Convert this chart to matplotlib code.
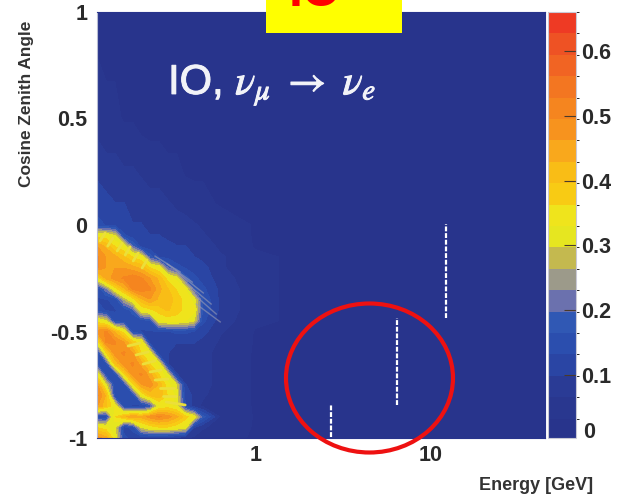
import numpy as np
from matplotlib import patheffects as pe
from matplotlib import pyplot as plt
from matplotlib.colors import BoundaryNorm, ListedColormap
from matplotlib.patches import Ellipse, Rectangle
from matplotlib.ticker import FixedLocator, NullFormatter, NullLocator
from matplotlib.transforms import IdentityTransform

plt.rcParams["font.family"] = ["Liberation Sans", "DejaVu Sans"]
plt.rcParams["mathtext.fontset"] = "stix"

# Oscillation probability, low energy / upward region
energy = [0.126, 0.141, 0.158, 0.178, 0.200, 0.224, 0.251, 0.282, 0.316, 0.355, 0.398, 0.447, 0.501,
          0.631, 1.0, 2.0]
cos_zenith = [-1.0, -0.95, -0.9, -0.85, -0.8, -0.75, -0.7, -0.65, -0.6, -0.55, -0.5,
              -0.45, -0.4, -0.35, -0.3, -0.25, -0.2, -0.15, -0.1, -0.05, 0.0,
              0.1, 0.25, 0.5]
probability = [
    [.48, .44, .33, .14, .12, .10, .10, .10, .09, .08, .07, .06, .05, .04, .03, .02],
    [.36, .34, .30, .12, .14, .30, .34, .36, .36, .34, .32, .10, .07, .05, .03, .02],
    [.13, .13, .36, .42, .46, .44, .48, .50, .48, .44, .38, .33, .18, .06, .03, .02],
    [.46, .40, .33, .14, .13, .12, .16, .32, .34, .32, .14, .08, .06, .05, .03, .02],
    [.50, .42, .14, .14, .14, .32, .40, .42, .36, .32, .12, .09, .07, .05, .03, .02],
    [.46, .30, .14, .14, .34, .46, .48, .42, .34, .30, .10, .09, .08, .05, .03, .02],
    [.32, .14, .14, .36, .48, .50, .44, .36, .30, .10, .09, .09, .08, .05, .03, .02],
    [.14, .16, .40, .48, .50, .44, .36, .32, .10, .09, .09, .09, .08, .05, .03, .02],
    [.14, .36, .48, .50, .46, .36, .32, .10, .10, .09, .09, .09, .08, .05, .03, .02],
    [.34, .50, .50, .46, .38, .34, .11, .11, .11, .10, .10, .10, .09, .06, .03, .02],
    [.48, .50, .42, .34, .14, .13, .13, .13, .13, .14, .14, .13, .11, .07, .03, .02],
    [.34, .30, .14, .14, .14, .14, .16, .32, .34, .34, .33, .30, .14, .08, .04, .02],
    [.14, .13, .13, .14, .18, .33, .35, .38, .40, .38, .35, .34, .16, .09, .04, .02],
    [.13, .13, .14, .26, .34, .42, .46, .42, .42, .38, .35, .32, .16, .09, .04, .02],
    [.14, .22, .34, .42, .50, .52, .50, .44, .40, .36, .33, .18, .14, .09, .04, .02],
    [.34, .44, .48, .50, .52, .50, .46, .42, .35, .32, .18, .14, .12, .08, .04, .02],
    [.50, .46, .46, .46, .44, .42, .36, .33, .20, .14, .13, .12, .11, .07, .04, .02],
    [.50, .46, .44, .40, .36, .33, .18, .13, .12, .12, .11, .10, .09, .07, .04, .02],
    [.46, .42, .36, .33, .20, .12, .11, .11, .11, .10, .10, .09, .08, .06, .03, .02],
    [.34, .34, .30, .14, .11, .10, .10, .10, .09, .09, .08, .08, .07, .05, .03, .02],
    [.14, .13, .12, .11, .10, .10, .09, .09, .09, .08, .08, .07, .06, .05, .03, .02],
    [.12, .11, .10, .10, .09, .09, .08, .08, .07, .06, .05, .04, .04, .03, .02, .02],
    [.09, .08, .08, .07, .07, .06, .05, .05, .04, .04, .03, .03, .03, .02, .02, .02],
    [.05, .04, .04, .03, .03, .02, .02, .02, .02, .02, .02, .02, .02, .02, .02, .02],
]

# Rest of the plane is flat background
energy_rest = [45.0]
cos_rest = [1.0]
background = 0.02

# Yellow spikes on the blob edges, then the pale fringes to the right of the upper blob
spike_e_base = [.188, .209, .229, .251, .268, .287, .298, .310, .130, .144, .163, .181, .201, .226]
spike_e_tip = [.220, .245, .268, .290, .318, .344, .354, .398, .139, .154, .174, .193, .215, .241]
spike_cos_base = [-.568, -.610, -.653, -.690, -.728, -.765, -.803, -.831, -.075, -.099, -.122, -.141, -.169, -.202]
spike_cos_tip = [-.554, -.596, -.638, -.681, -.723, -.765, -.803, -.845, -.038, -.061, -.085, -.103, -.131, -.164]
fringe_e_start = [.268, .314, .363, .403, .437, .460]
fringe_e_end = [.373, .437, .505, .560, .599, .631]
fringe_cos_start = [-.146, -.183, -.225, -.272, -.319, -.371]
fringe_cos_end = [-.221, -.268, -.319, -.371, -.418, -.455]

level_step = 0.033
band_colors = ["#28348c", "#29378f", "#2a3b95", "#2a45a4", "#2b4eae", "#3058b4",
               "#6b71ae", "#9c9a8a", "#c4b94f", "#e6e620", "#efe41c", "#f8cb14",
               "#f9bd16", "#f9a81c", "#f7931e", "#f5851f", "#f37621", "#f16423",
               "#ee5224", "#ee3a24"]

cbar_ticks = [0.1, 0.2, 0.3, 0.4, 0.5, 0.6]
cbar_labels = ["0.1", "0.2", "0.3", "0.4", "0.5", "0.6"]
cbar_zero_label = "0"
y_ticks = [-1, -0.5, 0, 0.5, 1]
y_labels = ["-1", "-0.5", "0", "0.5", "1"]
x_ticks = [1, 10]
x_labels = ["1", "10"]

# dashed guide lines: energy, cos start, cos end
guide_energy = [2.72, 6.4, 12.3]
guide_cos_low = [-0.995, -0.845, -0.437]
guide_cos_high = [-0.845, -0.437, 0.005]

W, H = 628, 497


def px_rect(left, top, right, bottom):
    """ Figure fraction rectangle from image pixels """
    return [left / W, 1 - bottom / H, (right - left) / W, (bottom - top) / H]


fig = plt.figure(figsize=(W / 100, H / 100), dpi=100)
ax = fig.add_axes(px_rect(97, 12, 545, 438))
cax = fig.add_axes(px_rect(548, 12, 576, 438))

# Pad the read grid out to the full axis range
x = np.array(energy + energy_rest)
y = np.array(cos_zenith + cos_rest)
z = np.full((len(y), len(x)), background)
z[:len(cos_zenith), :len(energy)] = probability

levels = [i * level_step for i in range(len(band_colors) + 1)]
cmap = ListedColormap(band_colors)
norm = BoundaryNorm(levels, cmap.N)
mesh = ax.contourf(x, y, z, levels=levels, cmap=cmap, norm=norm)
ax.set_xscale("log")
ax.set_xlim(0.125, 45)
ax.set_ylim(-1, 1)

for e0, e1, c0, c1 in zip(fringe_e_start, fringe_e_end, fringe_cos_start, fringe_cos_end):
    ax.plot([e0, e1], [c0, c1], color="#9a9cb4", lw=1.0, alpha=0.6)
for e0, e1, c0, c1 in zip(spike_e_base, spike_e_tip, spike_cos_base, spike_cos_tip):
    ax.plot([e0, e1], [c0, c1], color="#ecdf3a", lw=2.0, solid_capstyle="round")

for e, low, high in zip(guide_energy, guide_cos_low, guide_cos_high):
    ax.plot([e, e], [low, high], color="white", lw=1.6, ls=(0, (2.2, 0.8)))

ax.xaxis.set_major_locator(FixedLocator(x_ticks))
ax.set_xticklabels(x_labels, fontsize=15.5, fontweight="bold", color="#2a2a2a")
ax.xaxis.set_minor_locator(NullLocator())
ax.xaxis.set_minor_formatter(NullFormatter())
ax.set_yticks(y_ticks)
ax.set_yticklabels(y_labels, fontsize=15.5, fontweight="bold", color="#2a2a2a")
ax.tick_params(length=0, pad=7)
ax.tick_params(axis="x", pad=5)
for spine in ax.spines.values():
    spine.set_color("#28348c")
ax.spines["left"].set_color("#b8bcd4")

ax.text(0.318, 0.655, r"IO, $\nu_\mu\ \rightarrow\ \nu_e$", color="#f2f3f8", fontsize=30,
        va="center", ha="left",
        path_effects=[pe.withStroke(linewidth=0.7, foreground="#f2f3f8")])

cbar = fig.colorbar(mesh, cax=cax, spacing="proportional")
cbar.set_ticks(cbar_ticks, labels=cbar_labels)
cax.set_ylim(0.003, 0.66)
cax.tick_params(direction="in", length=9, width=0.8, color="#4a3a2a", pad=4, labelsize=15.5)
for label in cax.get_yticklabels():
    label.set_fontweight("bold")
    label.set_color("#2a2a2a")
cbar.outline.set_edgecolor("#c9c9d6")
fig.text(583 / W, 1 - 433 / H, cbar_zero_label, fontsize=15.5, fontweight="bold", color="#2a2a2a",
         ha="left", va="center")

fig.text(27 / W, 1 - 104 / H, "Cosine Zenith Angle", rotation=90, fontsize=12.4, fontweight="bold",
         color="#333333", ha="center", va="center")
fig.text(536 / W, 1 - 486 / H, "Energy [GeV]", fontsize=13, fontweight="bold",
         color="#333333", ha="center", va="center")

# Overlays drawn on top of the slide, in image pixels
fig.add_artist(Rectangle((266, H - 33), 136, 33, transform=IdentityTransform(),
                         facecolor="#ffff00", edgecolor="none"))
fig.text(315 / W, 1 - 6 / H, "IO", color="#ff0000", fontsize=36, fontweight="bold",
         ha="center", va="baseline")
fig.add_artist(Ellipse((369.5, H - 378), 167, 149, transform=IdentityTransform(),
                       facecolor="none", edgecolor="#ee1111", linewidth=3))

fig.savefig("out.png", dpi=100)
